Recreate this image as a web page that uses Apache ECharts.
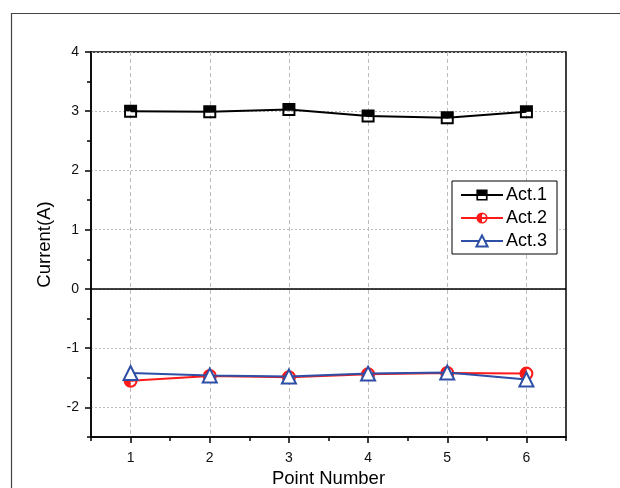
<!DOCTYPE html>
<html>
<head>
<meta charset="utf-8">
<script src="https://cdn.jsdelivr.net/npm/echarts@6/dist/echarts.min.js"></script>
<style>html,body{margin:0;padding:0;background:#fff}#c{width:620px;height:488px}</style>
</head>
<body>
<div id="c"></div>
<script>
const pointNumbers = [1, 2, 3, 4, 5, 6];
const act1 = [3.00, 2.99, 3.03, 2.92, 2.89, 2.99];
const act2 = [-1.55, -1.47, -1.49, -1.44, -1.42, -1.43];
const act3 = [-1.42, -1.46, -1.48, -1.43, -1.41, -1.53];
const xTickLabels = [1, 2, 3, 4, 5, 6];
const yTickLabels = [-2, -1, 0, 1, 2, 3, 4];
const halfTicks = [0.5, 1.5, 2.5, 3.5, 4.5, 5.5, 6.5];
const yHalfTicks = [-2.5, -1.5, -0.5, 0.5, 1.5, 2.5, 3.5];

const pairs = arr => pointNumbers.map((x, i) => [x, arr[i]]);

const halfSquare = 'path://M0,0 H20 V20 H0 Z M3,10 V17 H17 V10 Z';
const halfCircle = 'path://M10,0 A10,10 0 0 0 10,20 Z M10,0 A10,10 0 0 1 10,20 L10,17 A7,7 0 0 0 10,3 Z';

const FONT = 'Liberation Sans, Arial, sans-serif';
const chart = echarts.init(document.getElementById('c'), null, {renderer: 'canvas'});

const baseX = {
  type: 'value', min: 0.5, max: 6.5, interval: 0.5, position: 'bottom'
};
const baseY = {
  type: 'value', min: -2.5, max: 4, interval: 0.5, position: 'left'
};

chart.setOption({
  backgroundColor: '#fff',
  animation: false,
  graphic: [{
    type: 'rect', silent: true, z: -10,
    shape: {x: 11.5, y: 13.5, width: 800, height: 600},
    style: {fill: 'none', stroke: '#444', lineWidth: 1.2}
  }],
  grid: {
    left: 91, right: 54, top: 52, bottom: 51,
    containLabel: false,
    outerBoundsMode: 'none',
    show: true, borderColor: '#000', borderWidth: 1.5, backgroundColor: 'transparent'
  },
  legend: {
    data: ['Act.1', 'Act.2', 'Act.3'],
    orient: 'vertical',
    left: 452, top: 181,
    padding: [5, 10, 4, 8],
    borderColor: '#000', borderWidth: 1,
    backgroundColor: '#fff',
    itemWidth: 42, itemHeight: 14, itemGap: 5,
    textStyle: {fontFamily: FONT, fontSize: 18, color: '#000', padding: [0, 0, 0, -2]}
  },
  xAxis: [
    Object.assign({}, baseX, {
      name: 'Point Number', nameLocation: 'middle', nameGap: 32,
      nameTextStyle: {fontFamily: FONT, fontSize: 18.5, color: '#000'},
      axisLine: {show: true, onZero: false, lineStyle: {color: '#000', width: 1.5}},
      axisTick: {show: true, customValues: xTickLabels, length: 6, lineStyle: {color: '#000', width: 1.5}},
      axisLabel: {customValues: xTickLabels, margin: 14, fontFamily: FONT, fontSize: 14, color: '#111'},
      splitLine: {show: true, lineStyle: {color: '#bbb', type: [4, 3], width: 1}}
    }),
    Object.assign({}, baseX, {
      axisLine: {show: false, onZero: false},
      axisTick: {show: true, customValues: halfTicks, length: 4, lineStyle: {color: '#000', width: 1.5}},
      axisLabel: {show: false},
      splitLine: {show: false}
    })
  ],
  yAxis: [
    Object.assign({}, baseY, {
      name: 'Current(A)', nameLocation: 'middle', nameGap: 37,
      nameTextStyle: {fontFamily: FONT, fontSize: 18.5, color: '#000'},
      axisLine: {show: true, onZero: false, lineStyle: {color: '#000', width: 1.5}},
      axisTick: {show: true, customValues: yTickLabels, length: 6, lineStyle: {color: '#000', width: 1.5}},
      axisLabel: {customValues: yTickLabels, margin: 12, fontFamily: FONT, fontSize: 14, color: '#111'},
      splitLine: {show: true, lineStyle: {color: '#bbb', type: [2, 2], width: 1}}
    }),
    Object.assign({}, baseY, {
      axisLine: {show: false, onZero: false},
      axisTick: {show: true, customValues: yHalfTicks, length: 4, lineStyle: {color: '#000', width: 1.5}},
      axisLabel: {show: false},
      splitLine: {show: false}
    })
  ],
  series: [
    {
      name: 'Act.2', type: 'line', data: pairs(act2),
      symbol: halfCircle, symbolSize: 14,
      itemStyle: {color: '#ff1a1a'},
      lineStyle: {color: '#ff1a1a', width: 2},
      z: 3,
      markLine: {
        silent: true, symbol: 'none', label: {show: false},
        lineStyle: {color: '#000', type: 'solid', width: 1.5},
        data: [{yAxis: 0}]
      }
    },
    {
      name: 'Act.3', type: 'line', data: pairs(act3),
      symbol: 'emptyTriangle', symbolSize: 14,
      itemStyle: {color: '#2e4fa5', borderWidth: 2},
      lineStyle: {color: '#2e4fa5', width: 2},
      z: 4
    },
    {
      name: 'Act.1', type: 'line', data: pairs(act1),
      symbol: halfSquare, symbolSize: 13,
      itemStyle: {color: '#000'},
      lineStyle: {color: '#000', width: 2},
      z: 5
    }
  ]
});
</script>
</body>
</html>
